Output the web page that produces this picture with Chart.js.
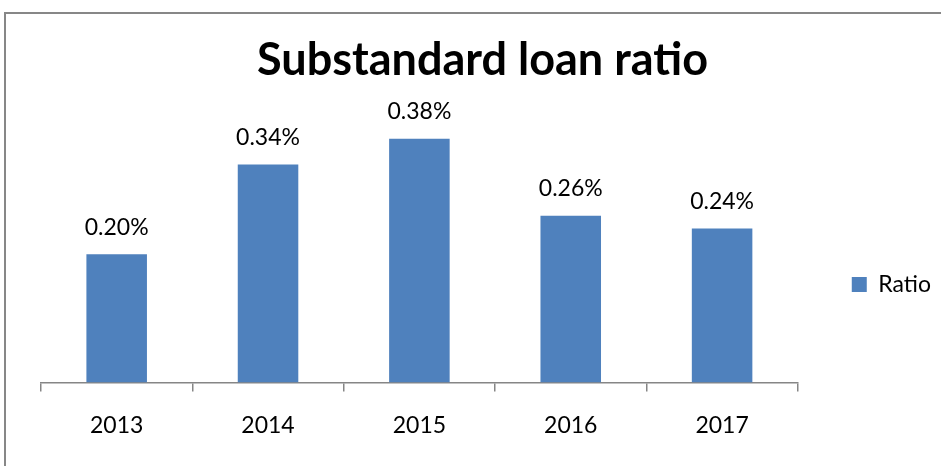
<!DOCTYPE html>
<html>
<head>
<meta charset="utf-8">
<title>Substandard loan ratio</title>
<script src="https://cdn.jsdelivr.net/npm/chart.js@4/dist/chart.umd.min.js"></script>
<style>
    html, body { margin: 0; padding: 0; background: #fff; overflow: hidden; }
    #frame {
        position: absolute;
        left: 4px;
        top: 12px;
        border: 2px solid #878787;
    }
    canvas { display: block; }
</style>
</head>
<body>
<div id="frame">
    <canvas id="loanChart" width="950" height="541"></canvas>
</div>
<script>
// Chart data
const years = ['2013', '2014', '2015', '2016', '2017'];
const ratios = [0.20, 0.34, 0.38, 0.26, 0.24];
const seriesName = 'Ratio';

const FONT = 'Lato, "Open Sans", sans-serif';

// draws "0.xx%" above each bar
const valueLabels = {
    id: 'valueLabels',
    afterDatasetsDraw(chart) {
        const ctx = chart.ctx;
        const meta = chart.getDatasetMeta(0);
        ctx.save();
        ctx.font = '23px ' + FONT;
        ctx.fillStyle = '#000';
        ctx.textAlign = 'center';
        ctx.textBaseline = 'middle';
        meta.data.forEach((bar, i) => {
            ctx.fillText(ratios[i].toFixed(2) + '%', bar.x, bar.y - 27);
        });
        ctx.restore();
    }
};

new Chart(document.getElementById('loanChart'), {
    type: 'bar',
    data: {
        labels: years,
        datasets: [{
            label: seriesName,
            data: ratios,
            backgroundColor: '#4F81BD',
            borderWidth: 0,
            categoryPercentage: 1,
            barPercentage: 0.4
        }]
    },
    options: {
        responsive: false,
        animation: false,
        devicePixelRatio: 1,
        layout: { padding: { left: 18, right: 15, top: 0, bottom: 0 } },
        plugins: {
            title: {
                display: true,
                text: 'Substandard loan ratio',
                color: '#000',
                font: { family: FONT, size: 45, weight: 'bold' },
                padding: { top: 19, bottom: 39 }
            },
            legend: {
                position: 'right',
                labels: {
                    boxWidth: 15,
                    boxHeight: 15,
                    padding: 54,
                    color: '#000',
                    font: { family: FONT, size: 23 }
                }
            },
            tooltip: { enabled: false }
        },
        scales: {
            x: {
                grid: {
                    display: true,
                    drawOnChartArea: false,
                    drawTicks: true,
                    tickLength: 9,
                    offset: true,
                    color: '#868686',
                    lineWidth: 1.5
                },
                border: { display: true, color: '#868686', width: 1.5 },
                ticks: { color: '#000', padding: 20, font: { family: FONT, size: 23 } },
                afterFit(scale) { scale.height += 96; }
            },
            y: {
                // hidden value axis, only keeps a small gap on the left
                min: 0,
                max: 0.4,
                grid: { display: false },
                border: { display: false },
                ticks: { display: false },
                afterFit(scale) { scale.width = 17; }
            }
        }
    },
    plugins: [valueLabels]
});
</script>
</body>
</html>
